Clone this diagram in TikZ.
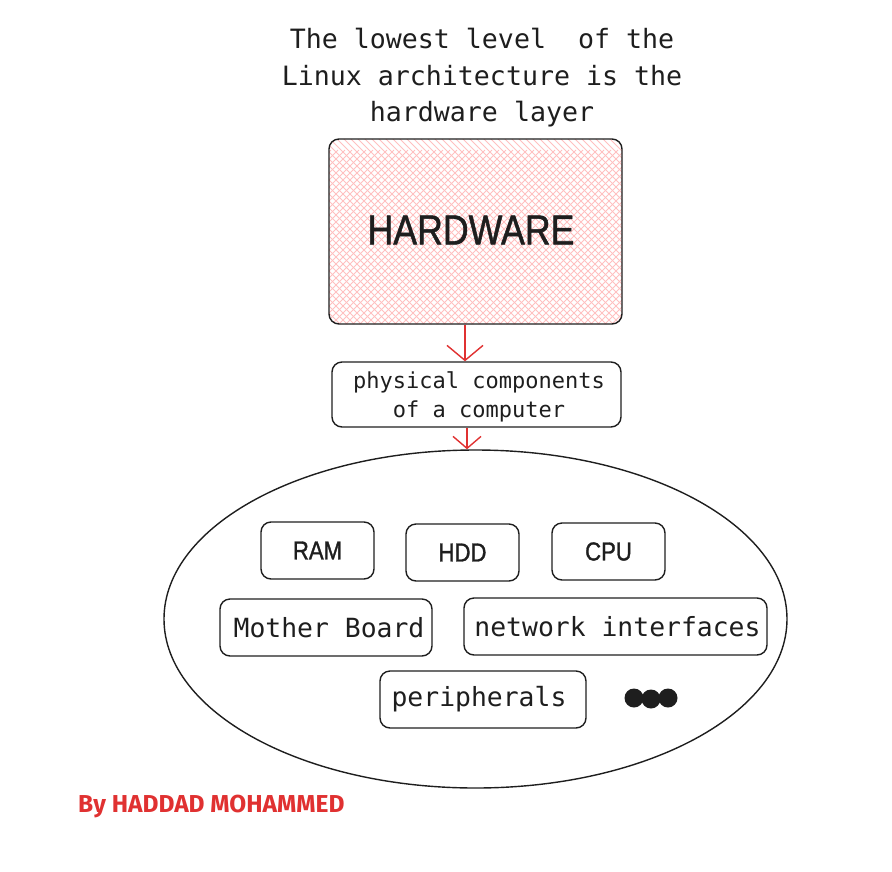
\documentclass[tikz,border=0pt]{standalone}
\usepackage{fontspec}
\newfontfamily\monof{DejaVu Sans Mono}
\newfontfamily\handf[FakeStretch=0.85,FakeBold=1.2]{Liberation Sans}
\newfontfamily\authf{Fira Sans}
\usetikzlibrary{arrows.meta,shapes.geometric}
\definecolor{ink}{HTML}{1E1E1E}
\definecolor{redink}{HTML}{E03131}
\definecolor{hatch}{HTML}{FFC0C0}
\tikzset{
  box/.style={draw=ink, line width=1.4pt, rounded corners=10pt, inner sep=0pt, text=ink},
  monotxt/.style={font=\monof\fontsize{26.4}{30}\selectfont},
  handtxt/.style={font=\handf\fontsize{26}{30}\selectfont},
  arr/.style={draw=redink, line width=1.4pt, -{Straight Barb[length=15pt,width=36pt,line width=1.4pt]}},
  arrb/.style={draw=redink, line width=1.4pt, -{Straight Barb[length=12pt,width=28pt,line width=1.4pt]}},
  dotn/.style={circle, fill=ink, inner sep=0pt, minimum size=19pt},
}
\begin{document}
\begin{tikzpicture}[x=1pt,y=-1pt]
\useasboundingbox (0,0) rectangle (892,871);
% title
\node[align=center, text=ink, font=\monof\fontsize{26.6}{36.5}\selectfont] (title) at (482,78)
  {The lowest level\ \ of the\\Linux architecture is the\\hardware layer};
% hardware box hatch
\begin{scope}
  \clip[rounded corners=10pt] (329,139) rectangle (622,324);
  \foreach \c in {460,467,...,960} {
    \draw[hatch, line width=0.9pt] (\c-150,150) -- (\c-350,350);
  }
  \foreach \c in {-300,-293,...,300} {
    \draw[hatch, line width=0.9pt] (329+\c-20,119) -- (329+\c+220,359);
  }
\end{scope}
\node[box, minimum width=293pt, minimum height=185pt] (hw) at (475.5,231.5) {};
\node[text=ink, font=\handf\fontsize{42}{46}\selectfont] (hwt) at (471,230) {HARDWARE};
% physical components
\node[box, minimum width=289pt, minimum height=65pt] (phys) at (476.5,394.5) {};
\node[align=center, text=ink, font=\monof\fontsize{22}{29.5}\selectfont] (physt) at (479,397)
  {physical components\\of a computer};
% ellipse
\node[ellipse, draw=ink, line width=1.4pt, minimum width=623pt, minimum height=338pt, inner sep=0pt] (ell) at (475.5,619) {};
% arrows
\coordinate (a1) at (465,0);
\coordinate (a2) at (467,0);
\draw[arr] (hw.south -| a1) -- (phys.north -| a1);
\draw[arrb] (phys.south -| a2) -- (ell.north -| a2);
% components
\node[box, handtxt, minimum width=113pt, minimum height=57pt] (ram) at (317.5,550.5) {RAM};
\node[box, handtxt, minimum width=113pt, minimum height=57pt] (hdd) at (462.5,552.5) {HDD};
\node[box, handtxt, minimum width=113pt, minimum height=57pt] (cpu) at (608.5,551.5) {CPU};
\node[box, monotxt, minimum width=212pt, minimum height=57pt] (mb) at (326,627.5) {\hspace*{6pt}Mother Board};
\node[box, monotxt, minimum width=303pt, minimum height=57pt] (net) at (615.5,626.5) {\hspace*{4pt}network interfaces};
\node[box, monotxt, minimum width=206pt, minimum height=57pt] (per) at (483,699.5) {peripherals\hspace*{8pt}};
\node[dotn] (d1) at (634,698) {};
\node[dotn] (d2) at (651,699) {};
\node[dotn] (d3) at (668,698) {};
% author
\node[anchor=west, inner sep=0pt, text=redink, font=\authf\bfseries\fontsize{24.5}{28}\selectfont] (auth) at (78,807) {By HADDAD MOHAMMED};
\end{tikzpicture}
\end{document}
